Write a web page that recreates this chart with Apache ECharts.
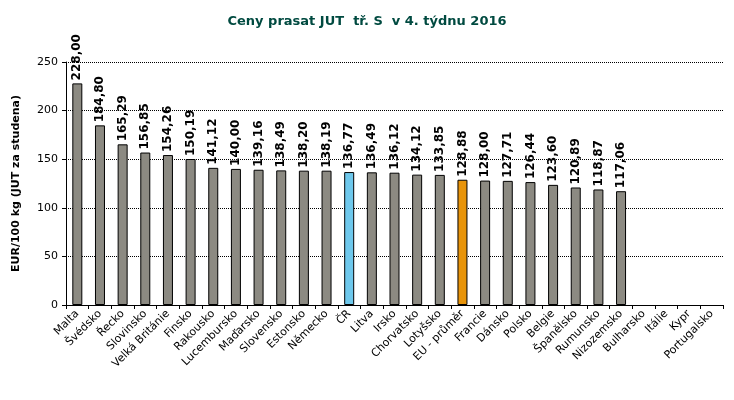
<!DOCTYPE html>
<html>
<head>
<meta charset="utf-8">
<script src="https://cdn.jsdelivr.net/npm/echarts@6/dist/echarts.min.js"></script>
<style>
  html, body { margin: 0; padding: 0; background: #fff; }
  #chart { width: 734px; height: 400px; }
</style>
</head>
<body>
<div id="chart"></div>
<script>
const countries = ['Malta', 'Švédsko', 'Řecko', 'Slovinsko', 'Velká Británie', 'Finsko', 'Rakousko',
  'Lucembursko', 'Maďarsko', 'Slovensko', 'Estonsko', 'Německo', 'ČR', 'Litva', 'Irsko', 'Chorvatsko',
  'Lotyšsko', 'EU - průměr', 'Francie', 'Dánsko', 'Polsko', 'Belgie', 'Španělsko', 'Rumunsko',
  'Nizozemsko', 'Bulharsko', 'Itálie', 'Kypr', 'Portugalsko'];
const prices = [228.00, 184.80, 165.29, 156.85, 154.26, 150.19, 141.12, 140.00, 139.16, 138.49,
  138.20, 138.19, 136.77, 136.49, 136.12, 134.12, 133.85, 128.88, 128.00, 127.71, 126.44, 123.60,
  120.89, 118.87, 117.06, null, null, null, null];
const yTicks = [0, 50, 100, 150, 200, 250];

const grey = '#8c8a82';
const highlight = { 'ČR': '#6ec8ec', 'EU - průměr': '#e8940a' };

const fmt = v => v.toFixed(2).replace('.', ',');

const chart = echarts.init(document.getElementById('chart'));
chart.setOption({
  animation: false,
  title: {
    text: 'Ceny prasat JUT  tř. S  v 4. týdnu 2016',
    left: 'center',
    top: 10,
    textStyle: { fontFamily: 'DejaVu Sans', fontSize: 13, fontWeight: 'bold', color: '#004a40' }
  },
  grid: { left: 66, right: 11, top: 62, bottom: 95 },
  xAxis: {
    type: 'category',
    data: countries,
    axisLine: { lineStyle: { color: '#000' } },
    axisTick: { show: true, alignWithLabel: false, length: 4, lineStyle: { color: '#000' } },
    axisLabel: {
      interval: 0, rotate: 45, color: '#000',
      fontFamily: 'DejaVu Sans', fontSize: 11, margin: 7
    }
  },
  yAxis: {
    type: 'value',
    min: yTicks[0],
    max: yTicks[yTicks.length - 1],
    interval: 50,
    name: 'EUR/100 kg (JUT za studena)',
    nameLocation: 'middle',
    nameGap: 44,
    nameTextStyle: { fontFamily: 'DejaVu Sans', fontSize: 11, fontWeight: 'bold', color: '#000' },
    axisLine: { show: true, lineStyle: { color: '#000' } },
    axisTick: { show: true, length: 4, lineStyle: { color: '#000' } },
    axisLabel: { color: '#000', fontFamily: 'DejaVu Sans', fontSize: 11, margin: 8 },
    splitLine: { lineStyle: { color: '#000', type: [1, 1], width: 1 } }
  },
  series: [{
    type: 'bar',
    barWidth: 10,
    data: prices.map((v, i) => ({
      value: v,
      itemStyle: { color: highlight[countries[i]] || grey }
    })),
    itemStyle: { borderColor: '#000', borderWidth: 1 }
  }, {
    // vertical value labels above each bar
    type: 'custom',
    data: prices.map((v, i) => [i, v]),
    clip: false,
    silent: true,
    renderItem: (params, api) => {
      const v = api.value(1);
      if (v == null || isNaN(v)) return null;
      const pt = api.coord([api.value(0), v]);
      return {
        type: 'text',
        x: pt[0],
        y: pt[1] - 3,
        rotation: Math.PI / 2,
        style: {
          text: fmt(v),
          fill: '#000',
          font: 'bold 12px "DejaVu Sans"',
          align: 'left',
          verticalAlign: 'middle'
        }
      };
    }
  }]
});
</script>
</body>
</html>
